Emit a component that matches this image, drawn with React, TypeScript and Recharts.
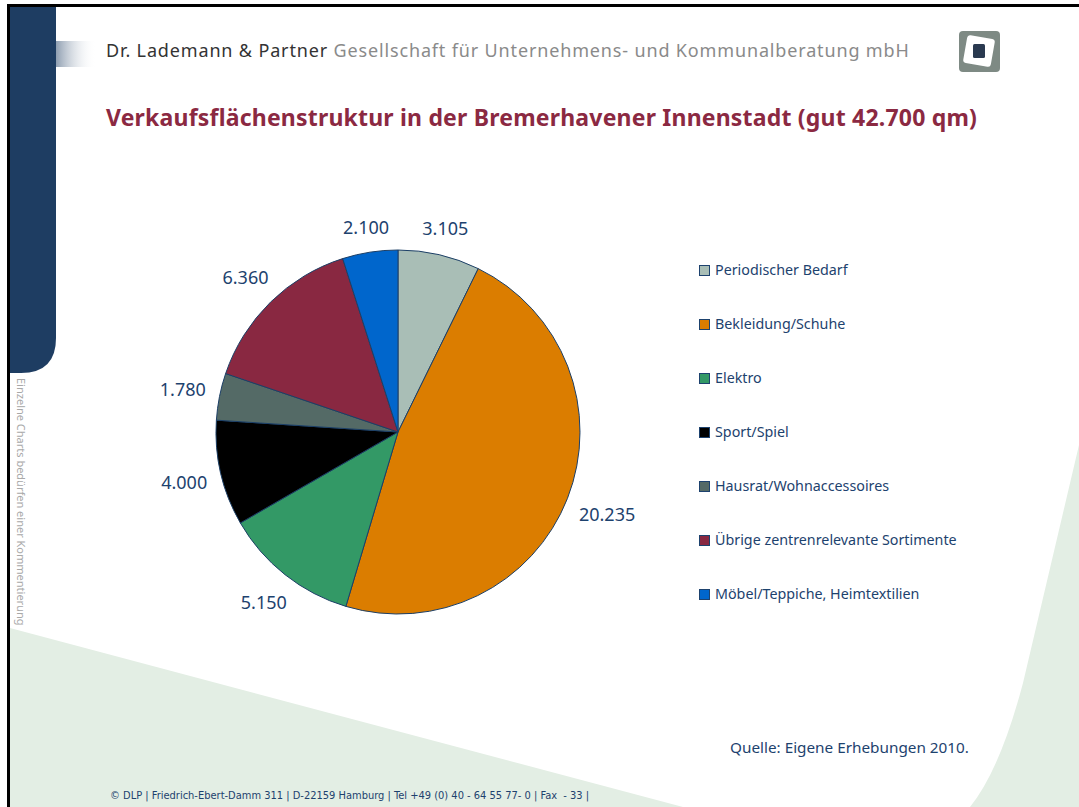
import React from "react";
import { PieChart, Pie, Cell, Legend } from "recharts";

const categories = [
  "Periodischer Bedarf",
  "Bekleidung/Schuhe",
  "Elektro",
  "Sport/Spiel",
  "Hausrat/Wohnaccessoires",
  "Übrige zentrenrelevante Sortimente",
  "Möbel/Teppiche,  Heimtextilien",
];
const areas = [3105, 20235, 5150, 4000, 1780, 6360, 2100];
const colors = ["#A9BEB6", "#DB7D00", "#339966", "#000000", "#546A66", "#892841", "#0066CC"];

const data = categories.map((name, i) => ({ name, value: areas[i] }));

const TEXT = "#1D426E";
const FONT = "'Noto Sans', sans-serif";

const fmt = (v: number) => {
  const s = String(v);
  return s.length > 3 ? s.slice(0, s.length - 3) + "." + s.slice(-3) : s;
};

const RAD = Math.PI / 180;
// label box sits just outside the rim, pushed out by its own half size
const renderLabel = (p: any) => {
  const txt = fmt(p.value);
  const hw = ((txt.length - 1) * 10.3 + 5) / 2;
  const hh = 9;
  const dx = Math.cos(-p.midAngle * RAD);
  const dy = Math.sin(-p.midAngle * RAD);
  const r = p.outerRadius + 13 + hw * Math.abs(dx) + hh * Math.abs(dy);
  return (
    <text
      x={p.cx + r * dx}
      y={p.cy + r * dy}
      fill={TEXT}
      fontSize={18}
      fontFamily={FONT}
      textAnchor="middle"
      dominantBaseline="central"
    >
      {txt}
    </text>
  );
};

const renderLegend = (props: any) => {
  const items = props.payload || [];
  return (
    <div style={{ fontFamily: FONT, fontSize: 14.3, color: TEXT }}>
      {items.map((it: any, i: number) => (
        <div key={i} style={{ height: 54, display: "flex", alignItems: "flex-start" }}>
          <span
            style={{
              display: "inline-block",
              width: 9,
              height: 9,
              background: it.color,
              border: "1px solid #1D426E",
              marginTop: 4,
              marginRight: 5,
            }}
          />
          <span style={{ lineHeight: "18px" }}>{it.value}</span>
        </div>
      ))}
    </div>
  );
};

export default function App() {
  return (
    <div style={{ position: "absolute", left: 0, top: 0, width: 1079, height: 807, background: "#fff", overflow: "hidden" }}>
      <svg width={1079} height={807} style={{ position: "absolute", left: 0, top: 0 }}>
        <defs>
          <linearGradient id="fade" x1="0" x2="1" y1="0" y2="0">
            <stop offset="0" stopColor="#1E3D62" stopOpacity="0.5" />
            <stop offset="1" stopColor="#ffffff" stopOpacity="0" />
          </linearGradient>
        </defs>
        <polygon points="10,628 683,807 10,807" fill="#E3EEE4" />
        <path d="M1079,445 L1023,683 Q1000,770 970,807 L1079,807 Z" fill="#E3EEE4" />
        <rect x={56} y={41} width={40} height={26} fill="url(#fade)" />
        <path d="M10,6 L56,6 L56,338 Q56,373 21,373 L10,373 Z" fill="#1E3D62" />
        <rect x={7} y={4} width={1072} height={3} fill="#000" />
        <rect x={7} y={4} width={3} height={803} fill="#000" />
        <rect x={959} y={31} width={41} height={41} rx={4} fill="#7E8A84" />
        <g transform="translate(979,51) rotate(10)">
          <rect x={-14} y={-14} width={28} height={28} rx={3} fill="#fff" />
        </g>
        <rect x={973} y={44} width={12} height={14} rx={1.5} fill="#2A3A50" />
      </svg>

      <div
        style={{
          position: "absolute",
          left: 106,
          top: 38,
          fontFamily: FONT,
          fontSize: 18,
          letterSpacing: 0.85,
          whiteSpace: "nowrap",
        }}
      >
        <span style={{ color: "#333" }}>Dr. Lademann &amp; Partner</span>{" "}
        <span style={{ color: "#8A8A8A" }}>Gesellschaft für Unternehmens- und Kommunalberatung mbH</span>
      </div>
      <div
        style={{
          position: "absolute",
          left: 106,
          top: 101,
          fontFamily: FONT,
          fontSize: 23,
          letterSpacing: 0.2,
          fontWeight: "bold",
          color: "#8B2942",
          whiteSpace: "nowrap",
        }}
      >
        Verkaufsflächenstruktur in der Bremerhavener Innenstadt (gut 42.700 qm)
      </div>

      <div
        style={{
          position: "absolute",
          left: 14,
          top: 378,
          writingMode: "vertical-rl",
          fontFamily: FONT,
          fontSize: 11,
          color: "#A8A8A8",
          whiteSpace: "nowrap",
        }}
      >
        Einzelne Charts bedürfen einer Kommentierung
      </div>

      <div style={{ position: "absolute", left: 0, top: 0 }}>
        <PieChart width={1079} height={807} margin={{ top: 0, right: 0, bottom: 0, left: 0 }}>
          <Pie
            data={data}
            dataKey="value"
            nameKey="name"
            cx={398}
            cy={432}
            outerRadius={182}
            startAngle={90}
            endAngle={-270}
            stroke="#1C3F66"
            strokeWidth={1}
            label={renderLabel}
            labelLine={false}
            isAnimationActive={false}
          >
            {data.map((d, i) => (
              <Cell key={d.name} fill={colors[i]} />
            ))}
          </Pie>
          <Legend
            layout="vertical"
            align="right"
            verticalAlign="top"
            content={renderLegend}
            itemSorter={(item: any) => categories.indexOf(item.value)}
            wrapperStyle={{ left: 699, top: 261, width: 320 }}
          />
        </PieChart>
      </div>

      <div style={{ position: "absolute", left: 730, top: 737, fontFamily: FONT, fontSize: 15.3, color: TEXT, whiteSpace: "nowrap" }}>
        Quelle: Eigene Erhebungen 2010.
      </div>
      <div
        style={{
          position: "absolute",
          left: 110,
          top: 789,
          fontFamily: "'Liberation Sans Narrow', 'DejaVu Sans Condensed', sans-serif",
          fontSize: 11,
          color: TEXT,
          whiteSpace: "nowrap",
        }}
      >
        © DLP | Friedrich-Ebert-Damm 311 | D-22159 Hamburg | Tel +49 (0) 40 - 64 55 77- 0 | Fax&nbsp; - 33 |
      </div>
    </div>
  );
}
